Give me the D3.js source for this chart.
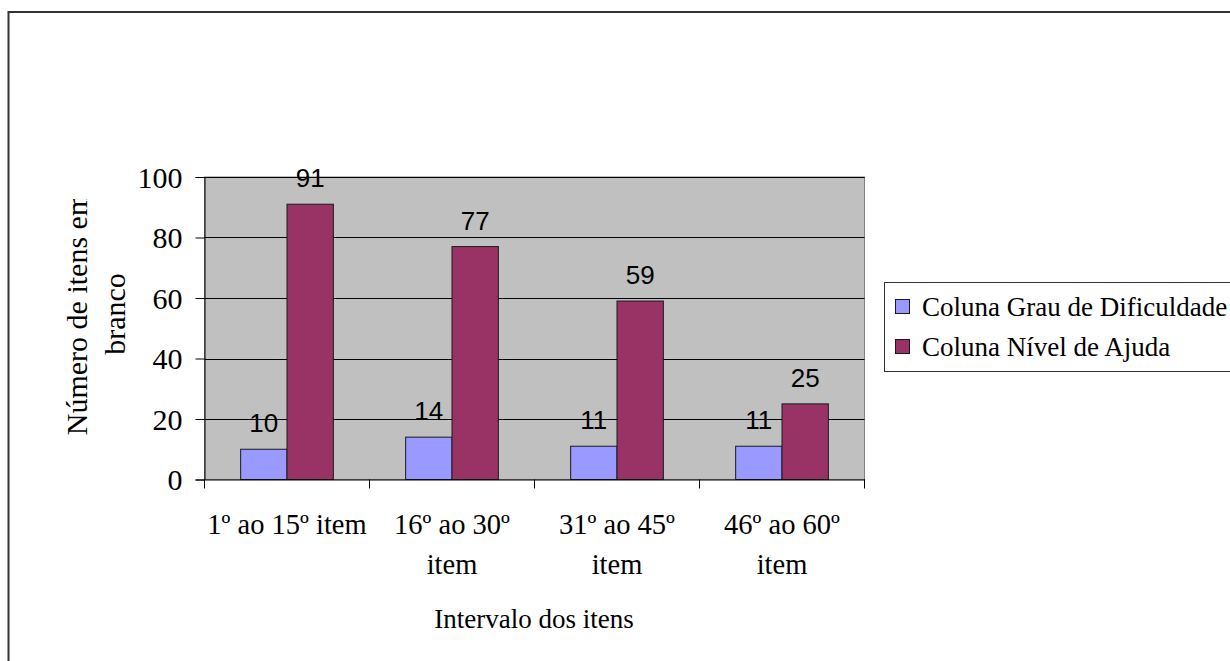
<!DOCTYPE html>
<html>
<head>
<meta charset="utf-8">
<script src="https://cdn.jsdelivr.net/npm/d3@7"></script>
<style>
  html, body { margin: 0; padding: 0; background: #fff; overflow: hidden; }
  svg { display: block; }
  .serif { font-family: "Liberation Serif", "Times New Roman", serif; font-size: 27px; fill: #000; }
  .sans { font-family: "Liberation Sans", Arial, sans-serif; font-size: 26px; fill: #000; }
</style>
</head>
<body>
<svg id="chart" width="1230" height="661"></svg>
<script>
// Blank items per interval, two columns
const categories = ["1º ao 15º item", "16º ao 30º item", "31º ao 45º item", "46º ao 60º item"];
const seriesNames = ["Coluna Grau de Dificuldade", "Coluna Nível de Ajuda"];
const grauDificuldade = [10, 14, 11, 11];
const nivelAjuda = [91, 77, 59, 25];
const yTicks = [0, 20, 40, 60, 80, 100];
const yTitleLines = ["Número de itens em", "branco"];
const xTitle = "Intervalo dos itens";
const colors = ["#9999FF", "#993366"];

const seriesValues = [grauDificuldade, nivelAjuda];
const rows = categories.map((c, i) => ({ cat: c, values: seriesValues.map((s, j) => ({ key: seriesNames[j], idx: j, v: s[i] })) }));

const serifFont = "\"Liberation Serif\", \"Times New Roman\", serif";
const svg = d3.select("#chart");

// outer chart frame (extends past the right/bottom edge)
svg.append("rect")
  .attr("x", 8.5).attr("y", 12).attr("width", 1240).attr("height", 700)
  .attr("fill", "#fff").attr("stroke", "#333").attr("stroke-width", 2);

const plot = { left: 204.5, right: 864.5, top: 177, bottom: 479.5 };

const x0 = d3.scaleBand().domain(categories).range([plot.left, plot.right]).padding(0);
const x1 = d3.scaleBand().domain(seriesNames).range([0, x0.bandwidth()]).paddingInner(0).paddingOuter(0.78);
const y = d3.scaleLinear().domain([0, 100]).range([plot.bottom, plot.top]);

// plot area
svg.append("rect")
  .attr("x", plot.left).attr("y", plot.top)
  .attr("width", plot.right - plot.left).attr("height", plot.bottom - plot.top)
  .attr("fill", "#C0C0C0").attr("stroke", "#808080").attr("stroke-width", 1);

// gridlines
svg.append("g").selectAll("line")
  .data(yTicks.filter(t => t > 0))
  .join("line")
  .attr("x1", plot.left).attr("x2", plot.right)
  .attr("y1", d => Math.round(y(d)) + 0.5).attr("y2", d => Math.round(y(d)) + 0.5)
  .attr("stroke", "#000").attr("stroke-width", 1);

// bars
const groups = svg.append("g").selectAll("g")
  .data(rows).join("g")
  .attr("transform", d => `translate(${x0(d.cat)},0)`);

groups.selectAll("rect")
  .data(d => d.values).join("rect")
  .attr("x", d => x1(d.key))
  .attr("y", d => y(d.v))
  .attr("width", x1.bandwidth())
  .attr("height", d => y(0) - y(d.v))
  .attr("fill", d => colors[d.idx])
  .attr("stroke", "#1a1a1a").attr("stroke-width", 1);

// value labels
groups.selectAll("text")
  .data(d => d.values).join("text")
  .attr("class", "sans")
  .attr("x", d => x1(d.key) + x1.bandwidth() / 2)
  .attr("y", d => y(d.v) - 17)
  .attr("text-anchor", "middle")
  .text(d => d.v);

// y axis
const yAxis = svg.append("g")
  .attr("transform", `translate(${plot.left},0)`)
  .call(d3.axisLeft(y).tickValues(yTicks).tickSize(9).tickPadding(13));
yAxis.attr("font-family", null).attr("font-size", null);
yAxis.select(".domain").attr("stroke", "#000");
yAxis.selectAll(".tick line").attr("stroke", "#000");
yAxis.selectAll(".tick text")
  .attr("fill", "#000")
  .style("font-family", serifFont).style("font-size", "30px")
  .attr("dy", "0.34em");

// x axis
const xAxis = svg.append("g")
  .attr("transform", `translate(0,${plot.bottom})`)
  .call(d3.axisBottom(x0).tickSize(0).tickFormat(""));
xAxis.select(".domain").attr("stroke", "#000");
// ticks at category boundaries
svg.append("g").selectAll("line")
  .data(d3.range(categories.length + 1))
  .join("line")
  .attr("x1", i => (i < categories.length ? x0(categories[i]) : plot.right))
  .attr("x2", i => (i < categories.length ? x0(categories[i]) : plot.right))
  .attr("y1", plot.bottom).attr("y2", plot.bottom + 9)
  .attr("stroke", "#000");

// category labels, wrapped to the band width
const catLabels = svg.append("g").selectAll("text")
  .data(categories).join("text")
  .attr("class", "serif")
  .style("font-size", "28.5px")
  .attr("text-anchor", "middle")
  .attr("x", d => x0(d) + x0.bandwidth() / 2)
  .attr("y", 534);

catLabels.each(function (d) {
  const t = d3.select(this);
  const words = d.split(" ");
  let line = [];
  const lines = [];
  const probe = t.append("tspan");
  words.forEach(w => {
    const test = line.concat([w]).join(" ");
    probe.text(test);
    if (probe.node().getComputedTextLength() > x0.bandwidth() - 4 && line.length) {
      lines.push(line.join(" "));
      line = [w];
    } else {
      line.push(w);
    }
  });
  lines.push(line.join(" "));
  probe.remove();
  lines.forEach((l, i) => {
    t.append("tspan").attr("x", x0(d) + x0.bandwidth() / 2).attr("dy", i === 0 ? 0 : 40).text(l);
  });
});

// x title
svg.append("text")
  .attr("class", "serif")
  .attr("x", 534).attr("y", 628)
  .attr("text-anchor", "middle")
  .text(xTitle);

// y title (first line clipped at its end)
svg.append("clipPath").attr("id", "ytclip")
  .append("rect").attr("x", 0).attr("y", 199).attr("width", 200).attr("height", 400);
const yTitle = svg.append("g").attr("clip-path", "url(#ytclip)");
yTitleLines.forEach((l, i) => {
  yTitle.append("text")
    .attr("class", "serif")
    .style("font-size", "30px")
    .attr("text-anchor", "middle")
    .attr("transform", `translate(${87 + i * 38},314) rotate(-90)`)
    .text(l);
});

// legend
const legend = svg.append("g");
legend.append("rect")
  .attr("x", 884.5).attr("y", 282.5).attr("width", 400).attr("height", 89)
  .attr("fill", "#fff").attr("stroke", "#333").attr("stroke-width", 1);
const items = legend.selectAll("g")
  .data(seriesNames).join("g")
  .attr("transform", (d, i) => `translate(895,${299 + i * 40})`);
items.append("rect")
  .attr("x", 0.5).attr("y", 0.5).attr("width", 14).attr("height", 14)
  .attr("fill", (d, i) => colors[i]).attr("stroke", "#1a1a1a");
items.append("text")
  .attr("class", "serif")
  .attr("x", 27).attr("y", 17)
  .text(d => d);
</script>
</body>
</html>
